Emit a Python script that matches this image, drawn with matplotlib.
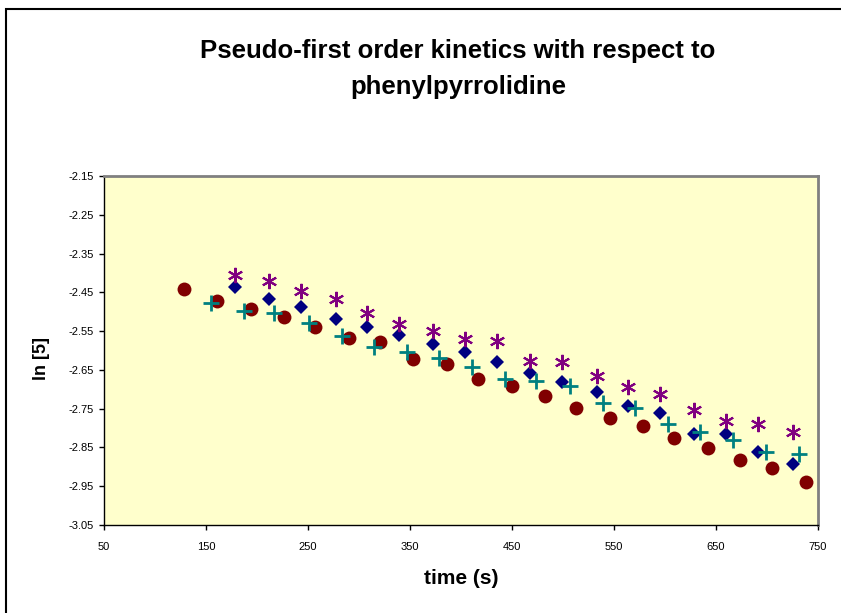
import numpy as np
import matplotlib.pyplot as plt
from matplotlib.patches import Rectangle

plt.rcParams['font.family'] = ['Liberation Sans', 'DejaVu Sans']

# ln[5] vs time for four runs
t_red = [128, 161, 194, 226, 257, 290, 321, 353, 386, 417, 450, 482, 513, 546, 578, 609, 642, 674, 705, 738]
y_red = [-2.441, -2.472, -2.492, -2.513, -2.539, -2.569, -2.579, -2.621, -2.636, -2.673,
         -2.692, -2.718, -2.749, -2.774, -2.795, -2.826, -2.851, -2.882, -2.903, -2.939]

t_navy = [178, 212, 243, 277, 308, 339, 373, 404, 435, 468, 499, 533, 564, 595, 628, 660, 691, 725]
y_navy = [-2.435, -2.466, -2.487, -2.518, -2.539, -2.559, -2.584, -2.605, -2.630, -2.657,
          -2.682, -2.708, -2.742, -2.762, -2.815, -2.815, -2.862, -2.893]

t_purple = [178, 212, 243, 277, 308, 339, 373, 404, 435, 468, 499, 533, 564, 595, 628, 660, 691, 725]
y_purple = [-2.405, -2.420, -2.446, -2.467, -2.503, -2.532, -2.549, -2.570, -2.575, -2.627,
            -2.630, -2.666, -2.693, -2.713, -2.754, -2.782, -2.790, -2.811]

t_teal = [155, 187, 217, 251, 283, 315, 347, 378, 411, 443, 474, 507, 539, 571, 603, 634, 667, 699, 731]
y_teal = [-2.477, -2.497, -2.503, -2.528, -2.563, -2.590, -2.605, -2.620, -2.642, -2.673,
          -2.678, -2.692, -2.735, -2.749, -2.790, -2.809, -2.831, -2.862, -2.867]

x_ticks = np.arange(50, 751, 100)
y_ticks = np.round(np.arange(-3.05, -2.149, 0.1), 2)

fig = plt.figure(figsize=(8.41, 6.13), dpi=100)

# chart frame
fig.patches.append(Rectangle((6 / 841, -0.05), 1.0, 1 - 9 / 613 + 0.05,
                             transform=fig.transFigure, fill=False,
                             edgecolor='black', linewidth=1.5))

ax = fig.add_axes([104 / 841, 1 - 525 / 613, 714 / 841, 349 / 613])
ax.set_facecolor('#FFFFCC')

ax.plot(t_red, y_red, 'o', color='#800000', markersize=10, markeredgewidth=0)
ax.plot(t_navy, y_navy, 'D', color='#000080', markersize=7, markeredgewidth=0)
ax.plot(t_purple, y_purple, marker=(6, 2, 0), linestyle='none', color='#800080',
        markersize=11, markeredgewidth=1.5)
ax.plot(t_teal, y_teal, '+', color='#008080', markersize=11, markeredgewidth=2)

ax.set_xlim(50, 750)
ax.set_ylim(-3.05, -2.15)
ax.set_xticks(x_ticks)
ax.set_xticklabels([str(v) for v in x_ticks])
ax.set_yticks(y_ticks)
ax.set_yticklabels(['%.2f' % v for v in y_ticks])
ax.tick_params(direction='out', length=3.5, width=1, labelsize=8, pad=4)
ax.tick_params(axis='x', pad=9)

for side in ['left', 'bottom']:
    ax.spines[side].set_color('black')
    ax.spines[side].set_linewidth(1)
for side in ['top', 'right']:
    ax.spines[side].set_color('#808080')
    ax.spines[side].set_linewidth(2)

fig.text(458 / 841, 1 - 69 / 613,
         'Pseudo-first order kinetics with respect to\nphenylpyrrolidine',
         ha='center', va='center', fontsize=18.5, fontweight='bold', linespacing=1.62)
fig.text(41 / 841, 1 - 358 / 613, 'ln [5]', rotation=90, ha='center', va='center',
         fontsize=13, fontweight='bold')
fig.text(461 / 841, 1 - 578 / 613, 'time (s)', ha='center', va='center',
         fontsize=15, fontweight='bold')

plt.savefig('out.png', dpi=100)
